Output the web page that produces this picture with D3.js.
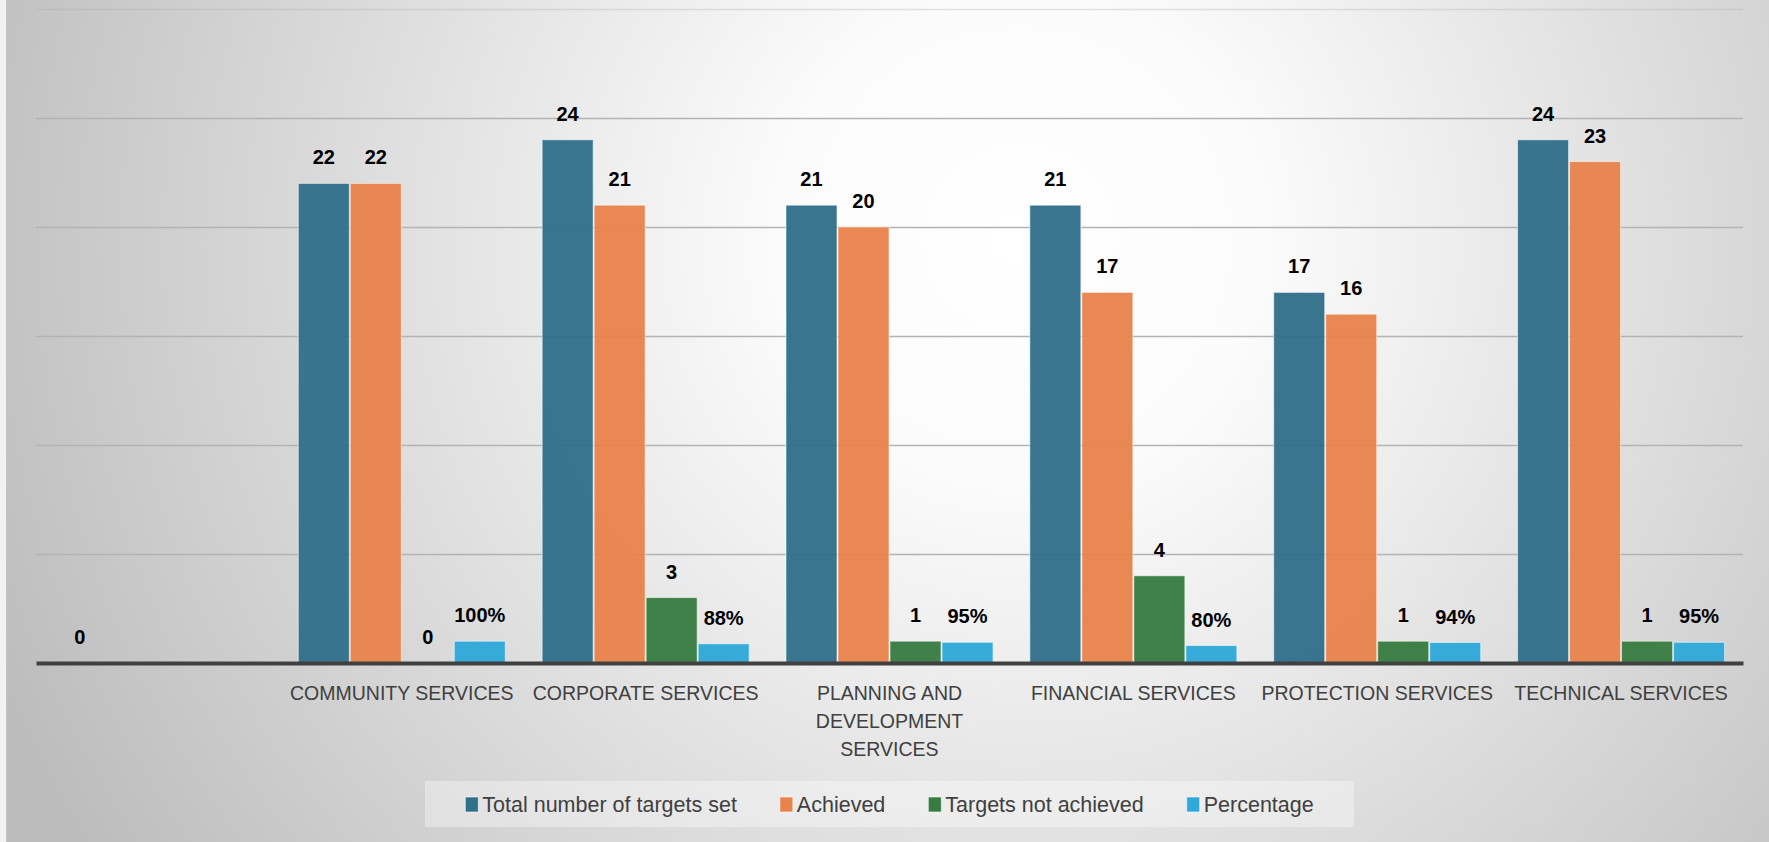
<!DOCTYPE html>
<html>
<head>
<meta charset="utf-8">
<script src="https://cdn.jsdelivr.net/npm/d3@7/dist/d3.min.js"></script>
<style>
  html, body { margin: 0; padding: 0; background: #fff; }
  svg { display: block; }
</style>
</head>
<body>
<svg id="chart" width="1769" height="842"></svg>
<script>
// ---------- DATA ----------
const categories = ["", "COMMUNITY SERVICES", "CORPORATE SERVICES", "PLANNING AND DEVELOPMENT SERVICES",
  "FINANCIAL SERVICES", "PROTECTION SERVICES", "TECHNICAL SERVICES"];
const seriesNames = ["Total number of targets set", "Achieved", "Targets not achieved", "Percentage"];
const totalTargets = [0, 22, 24, 21, 21, 17, 24];
const achieved = [null, 22, 21, 20, 17, 16, 23];
const notAchieved = [null, 0, 3, 1, 4, 1, 1];
const percentage = [null, 1.00, 0.88, 0.95, 0.80, 0.94, 0.95];
const yTicks = [0, 5, 10, 15, 20, 25, 30];
const seriesColors = ["#316f8a", "#e9834c", "#377c41", "#2fa9da"];

const seriesValues = [totalTargets, achieved, notAchieved, percentage];
const seriesFormat = [d3.format("d"), d3.format("d"), d3.format("d"), d3.format(".0%")];

// ---------- LAYOUT ----------
const W = 1769, H = 842;
const plot = { left: 36, right: 1743, top: 9, bottom: 663 };
const svg = d3.select("#chart");
const defs = svg.append("defs");

const grad = defs.append("radialGradient")
  .attr("id", "bg").attr("gradientUnits", "userSpaceOnUse")
  .attr("cx", 1020).attr("cy", 240).attr("r", 1120);
grad.append("stop").attr("offset", "0%").attr("stop-color", "#ffffff");
grad.append("stop").attr("offset", "22%").attr("stop-color", "#fbfbfb");
grad.append("stop").attr("offset", "100%").attr("stop-color", "#bcbcbc");

svg.append("rect").attr("width", W).attr("height", H).attr("fill", "url(#bg)");
svg.append("rect").attr("x", 0).attr("y", 0).attr("width", 6).attr("height", H).attr("fill", "#f2f2f2");
svg.append("line").attr("x1", 6.5).attr("x2", 6.5).attr("y1", 0).attr("y2", H)
  .attr("stroke", "#c4c4c4").attr("stroke-width", 1);

const x0 = d3.scaleBand().domain(categories.map((c, i) => i))
  .range([plot.left, plot.right]).paddingInner(0.147).paddingOuter(0.0735);
const x1 = d3.scaleBand().domain(seriesNames).range([0, x0.bandwidth()]).padding(0);
const y = d3.scaleLinear().domain([0, 30]).range([plot.bottom, plot.top]);

// gridlines
const gridAxis = d3.axisLeft(y).tickValues(yTicks.filter(t => t > 0))
  .tickSize(-(plot.right - plot.left)).tickFormat("");
const gG = svg.append("g").attr("transform", `translate(${plot.left},0)`).call(gridAxis);
gG.select(".domain").remove();
gG.selectAll(".tick line").attr("stroke", "#b3b3b3").attr("stroke-width", 1.6)
  .attr("stroke-opacity", d => d === 30 ? 0.35 : 1);

// bars
const cells = [];
categories.forEach((c, i) => {
  seriesNames.forEach((s, k) => {
    const v = seriesValues[k][i];
    if (v !== null && v !== undefined) cells.push({ i, s, k, v });
  });
});

svg.append("g").selectAll("rect").data(cells).join("rect")
  .attr("x", d => x0(d.i) + x1(d.s) + 0.5)
  .attr("width", x1.bandwidth() - 1)
  .attr("y", d => y(d.v))
  .attr("height", d => Math.max(0, y(0) - y(d.v)))
  .attr("fill", d => seriesColors[d.k])
  .attr("fill-opacity", 0.96)
  .attr("stroke", "rgba(255,255,255,0.55)")
  .attr("stroke-width", 1);

// axis line
const xAxis = d3.axisBottom(x0).tickSize(0).tickFormat("");
const xa = svg.append("g").attr("transform", `translate(0,${plot.bottom})`).call(xAxis);
xa.select(".domain").attr("stroke", "#404040").attr("stroke-width", 4);

// data labels
svg.append("g").selectAll("text").data(cells).join("text")
  .attr("x", d => x0(d.i) + x1(d.s) + x1.bandwidth() / 2)
  .attr("y", d => y(d.v) - 19)
  .attr("text-anchor", "middle")
  .attr("font-family", "'Liberation Sans', Arial, sans-serif")
  .attr("font-weight", "bold")
  .attr("font-size", 20)
  .attr("fill", "#000")
  .text(d => seriesFormat[d.k](d.v));

// category labels with wrapping
const catFont = "'Liberation Sans', Arial, sans-serif";
const labG = svg.append("g");
categories.forEach((c, i) => {
  const cx = x0(i) + x0.bandwidth() / 2;
  const t = labG.append("text").attr("x", cx).attr("y", 700)
    .attr("text-anchor", "middle").attr("font-family", catFont)
    .attr("font-size", 19.5).attr("fill", "#404040");
  const words = c.split(" ").filter(w => w);
  const maxW = 232;
  let lines = [], cur = [];
  const probe = labG.append("text").attr("font-family", catFont).attr("font-size", 19.5);
  words.forEach(w => {
    const test = cur.concat([w]).join(" ");
    probe.text(test);
    if (probe.node().getComputedTextLength() > maxW && cur.length) {
      lines.push(cur.join(" ")); cur = [w];
    } else cur.push(w);
  });
  if (cur.length) lines.push(cur.join(" "));
  probe.remove();
  lines.forEach((ln, j) => {
    t.append("tspan").attr("x", cx).attr("y", 700 + j * 28).text(ln);
  });
});

// legend
const legY = 804;
svg.append("rect").attr("x", 425).attr("y", 781).attr("width", 929).attr("height", 46)
  .attr("fill", "#ffffff").attr("fill-opacity", 0.35);
const legG = svg.append("g");
const items = seriesNames.map((s, k) => {
  const g = legG.append("g");
  g.append("rect").attr("x", 0).attr("y", legY - 7).attr("width", 13).attr("height", 15)
    .attr("fill", seriesColors[k]).attr("stroke", "rgba(255,255,255,0.6)").attr("stroke-width", 1);
  const tx = g.append("text").attr("x", 17).attr("y", legY + 8)
    .attr("font-family", catFont).attr("font-size", 21.5).attr("fill", "#404040").text(s);
  return { g, w: 17 + tx.node().getComputedTextLength() };
});
const gap = 43;
const totalW = d3.sum(items, d => d.w) + gap * (items.length - 1);
let lx = (plot.left + plot.right) / 2 - totalW / 2;
items.forEach(it => { it.g.attr("transform", `translate(${lx},0)`); lx += it.w + gap; });
</script>
</body>
</html>
